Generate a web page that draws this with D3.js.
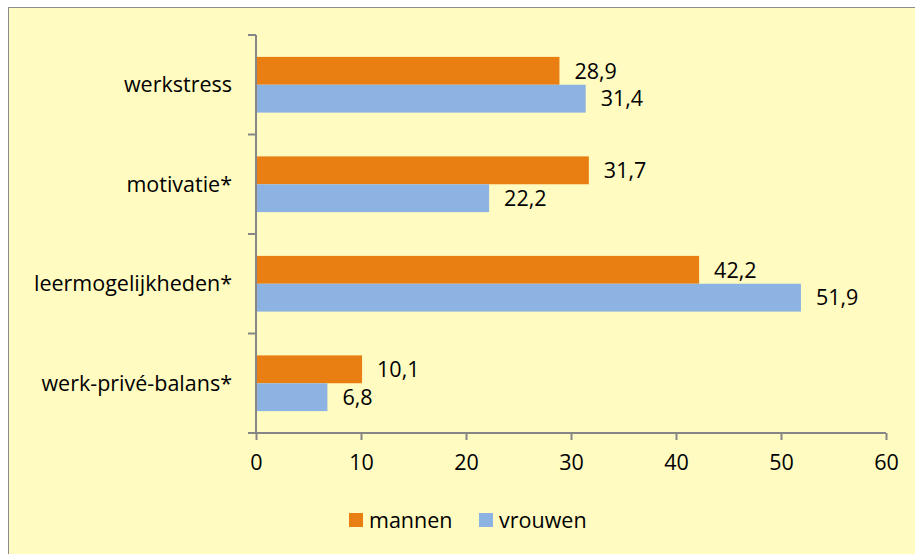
<!DOCTYPE html>
<html>
<head>
    <meta charset="utf-8">
    <title>werkstress mannen vrouwen</title>
    <script type="text/javascript" src="https://cdn.jsdelivr.net/npm/d3@7"></script>
    <style>
        body { margin: 0; background: #ffffff; }
        text { font-family: "Open Sans", "Liberation Sans", sans-serif; }
    </style>
</head>
<body>
    <script type="text/javascript">
        var categories = ['werkstress', 'motivatie*', 'leermogelijkheden*', 'werk-privé-balans*'];
        var seriesNames = ['mannen', 'vrouwen'];
        var mannen = [28.9, 31.7, 42.2, 10.1];
        var vrouwen = [31.4, 22.2, 51.9, 6.8];
        var xTicks = [0, 10, 20, 30, 40, 50, 60];
        var colors = ['#e97f13', '#8db3e2'];

        var width = 915;
        var height = 554;
        var fontSize = '21.5px';
        var svg = d3.select('body').append('svg')
                    .attr('width', width)
                    .attr('height', height);

        // background + frame
        svg.append('rect')
            .attr('x', 8.5).attr('y', 7.5)
            .attr('width', width + 10).attr('height', height + 10)
            .attr('fill', '#fffbc1')
            .attr('stroke', '#8c8c8c')
            .attr('stroke-width', 1);

        var x = d3.scaleLinear().domain([0, 60]).range([256, 886]);
        var y = d3.scaleBand().domain(categories).range([35, 433]).paddingInner(0.44).paddingOuter(0.22);
        var band = d3.scaleBand().domain(seriesNames).range([0, y.bandwidth()]);

        var rows = categories.map(function(c, i) {
            return { cat: c, values: [mannen[i], vrouwen[i]] };
        });

        var groups = svg.append('g').attr('class', 'bars')
                        .selectAll('g').data(rows).enter()
                        .append('g')
                        .attr('transform', function(d) { return 'translate(0,' + y(d.cat) + ')'; });

        groups.selectAll('rect')
            .data(function(d) { return d.values; })
            .enter().append('rect')
            .attr('x', x(0))
            .attr('y', function(d, i) { return band(seriesNames[i]); })
            .attr('width', function(d) { return x(d) - x(0); })
            .attr('height', band.bandwidth())
            .attr('fill', function(d, i) { return colors[i]; });

        groups.selectAll('text')
            .data(function(d) { return d.values; })
            .enter().append('text')
            .attr('x', function(d) { return x(d) + 15; })
            .attr('y', function(d, i) { return band(seriesNames[i]) + band.bandwidth() / 2; })
            .attr('dy', '0.36em')
            .style('font-size', fontSize)
            .style('fill', '#000')
            .text(function(d) { return d3.format('.1f')(d).replace('.', ','); });

        // x axis
        var xAxis = svg.append('g')
            .attr('transform', 'translate(0,433)')
            .call(d3.axisBottom(x).tickValues(xTicks).tickSize(7).tickPadding(15).tickSizeOuter(0));
        xAxis.select('.domain').attr('stroke', '#868686').attr('stroke-width', 2);
        xAxis.selectAll('.tick line').attr('stroke', '#868686').attr('stroke-width', 2);
        xAxis.selectAll('.tick text').style('font-size', fontSize).style('fill', '#000')
            .style('font-family', '"Open Sans", "Liberation Sans", sans-serif');
        xAxis.select('.domain').attr('d', 'M' + (x(0) - 8) + ',0H' + x(60));

        // y axis line with category boundary ticks
        var yAxis = svg.append('g').attr('class', 'yaxis');
        yAxis.append('line')
            .attr('x1', x(0)).attr('x2', x(0))
            .attr('y1', 35).attr('y2', 433)
            .attr('stroke', '#868686').attr('stroke-width', 2);
        var step = y.step();
        var bounds = categories.map(function(c) { return y(c) - y.paddingInner() * step / 2; });
        yAxis.selectAll('.ytick').data(bounds).enter().append('line')
            .attr('x1', x(0) - 8).attr('x2', x(0))
            .attr('y1', function(d) { return d; }).attr('y2', function(d) { return d; })
            .attr('stroke', '#868686').attr('stroke-width', 2);
        yAxis.selectAll('.ylabel').data(categories).enter().append('text')
            .attr('x', 232)
            .attr('y', function(d) { return y(d) + y.bandwidth() / 2; })
            .attr('dy', '0.36em')
            .attr('text-anchor', 'end')
            .style('font-size', fontSize)
            .text(function(d) { return d; });

        // legend
        var legend = svg.append('g').attr('class', 'legend');
        var legX = [349, 479];
        seriesNames.forEach(function(name, i) {
            legend.append('rect')
                .attr('x', legX[i]).attr('y', 513)
                .attr('width', 14).attr('height', 14)
                .attr('fill', colors[i]);
            legend.append('text')
                .attr('x', legX[i] + 20).attr('y', 520)
                .attr('dy', '0.36em')
                .style('font-size', fontSize)
                .text(name);
        });
    </script>
</body>
</html>
